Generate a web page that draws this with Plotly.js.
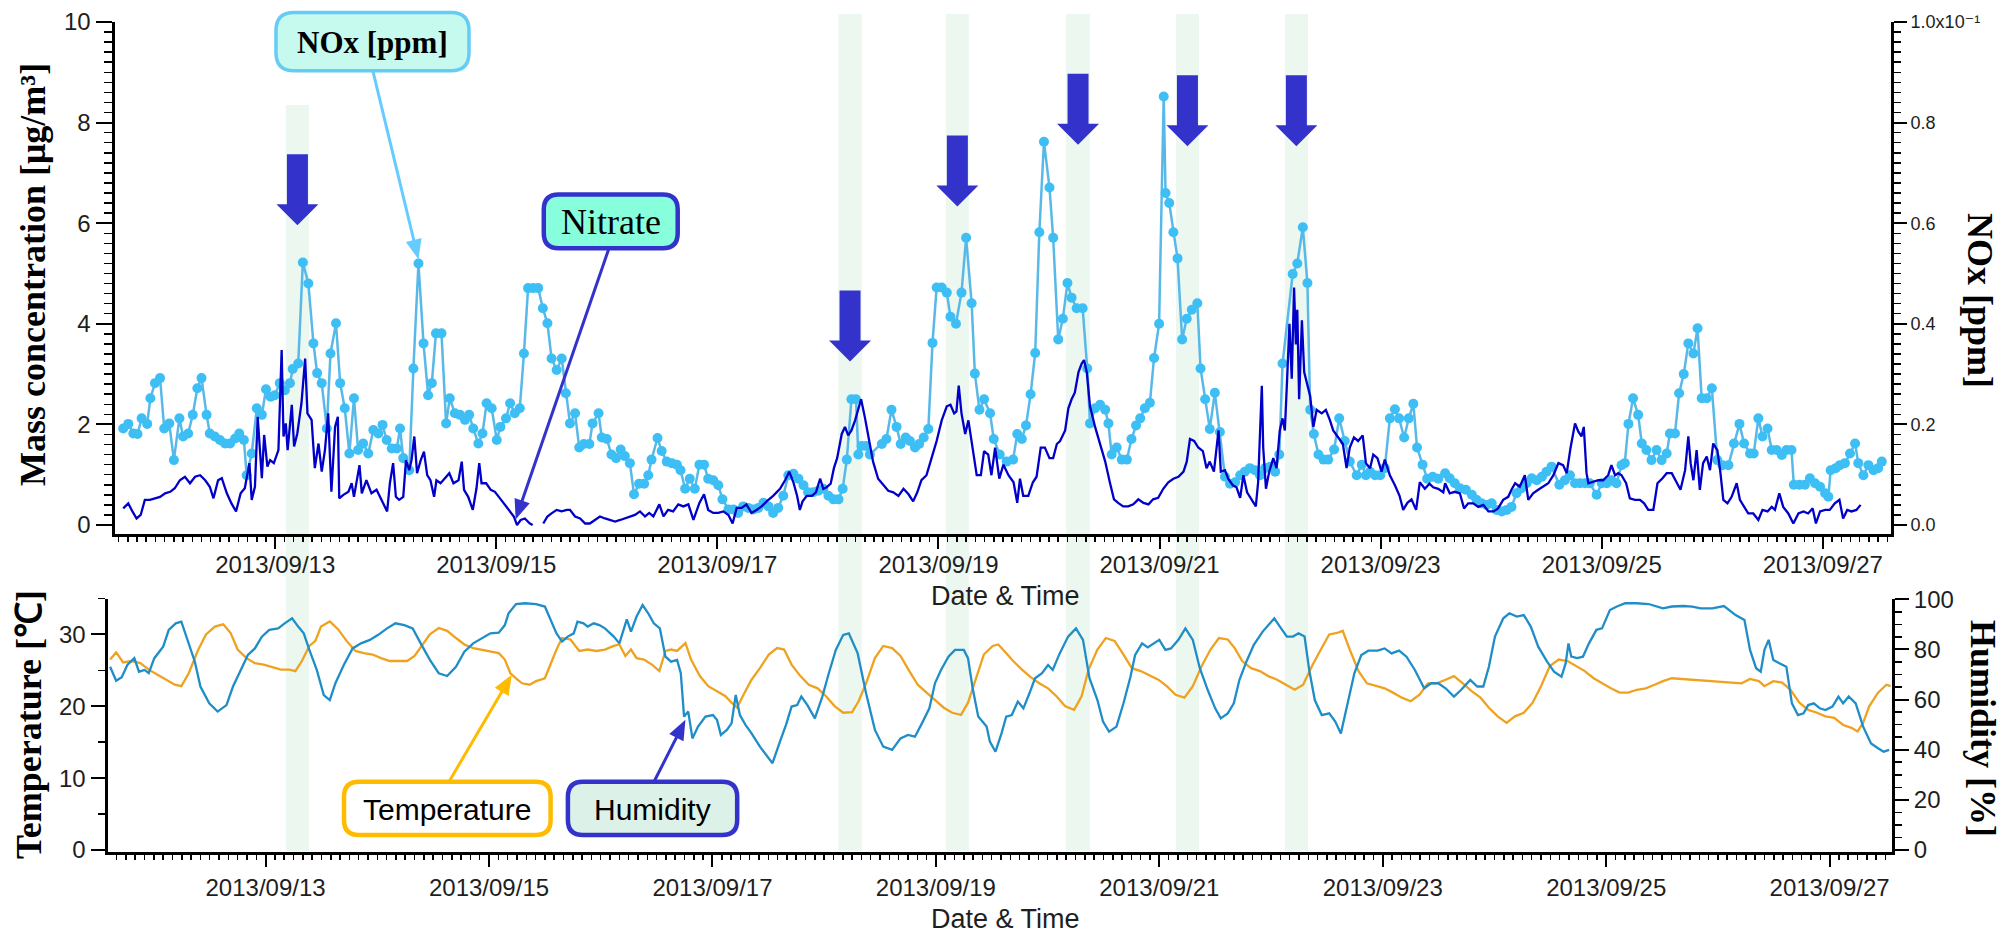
<!DOCTYPE html>
<html>
<head>
<meta charset="utf-8">
<script src="https://cdn.plot.ly/plotly-3.0.1.min.js"></script>
<style>
html,body{margin:0;padding:0;background:#ffffff;overflow:hidden;}
#chart{width:2007px;height:934px;}
</style>
</head>
<body>
<div id="chart"></div>
<script>
// ================= DATA (time = hours since 2013-09-11 00:00) =================
const noxHours = [15,16.1,17.2,18.1,19,20.2,20.9,21.9,23,23.9,25,26,27.2,28,29.1,30.1,31.1,32,33.1,33.8,34.9,36,37.1,38.2,39.3,40.2,41.2,41.8,42.9,44,45.1,46,47,47.9,49,50.1,51.2,51.8,53,54,55.2,56.3,57.1,58.1,59.2,60,61.2,62.1,63.1,64.1,65.1,66,67.1,68.2,69.3,70.4,71.3,72.2,73.3,74.4,75.1,75.8,77.1,78,79.1,80.2,81.2,82,82.9,84.1,85.1,85.9,87,88.1,89.2,90.1,91,92.1,93,93.9,95,96.1,96.9,98.1,99,100,101.1,102,102.9,104,105.1,106.1,107.1,108,109.1,110.2,111.1,
  112,113.1,114,115,116.2,116.9,118.2,118.9,120,121,122,123,123.9,125,125.9,127,128.1,129,129.7,131,131.9,133,134.1,135.2,136,137,138,139.1,140.1,141.1,142,143.1,144.2,145.1,146.4,147.5,148.5,149.6,150.7,151.8,152.9,154,155.1,156.1,157.2,158.3,159.4,160.5,161.6,162.7,163.7,164.8,165.9,167,168.1,169.2,170.3,171.2,172.1,173.1,174.1,174.6,175.3,176.3,177.1,179.7,180.7,181.8,182.9,183.8,184.9,185.8,186.9,187.8,188.8,189.8,190.7,191.6,192.7,193.8,194.6,195.8,197,198,199.2,199.9,200.9,201.9,203.2,204,205.3,206.8,
  208.2,209.1,210.1,211,212,213,213.9,214.9,216.1,216.9,218,219,220,220.9,222,223.3,224.3,224.9,226,227.1,228.2,228.9,229.6,230.7,231.8,232.9,233.9,234.9,235.8,236.8,237.9,238.8,239.9,240.9,241.3,242.1,243,243.9,244.9,245.9,247,248.2,248.9,249.9,250.9,252,253.1,254.2,255.3,256.4,257.5,258.5,259.6,260.7,261.8,262.9,264,265.1,266,266.7,268.9,269.9,271.1,272.1,272.7,273.5,274.5,275.6,276.6,277.9,279,280.2,281.3,282.8,283.9,284.8,285.7,286.8,287.9,288.9,290,291.1,292,293.1,294.1,295.1,295.9,297.1,298.1,299.3,300.5,
  302,303,304.1,305.2,306.5,307.8,308.8,309.9,311,312.1,313.2,314.3,315.4,316.4,317.5,318.6,319.7,320.8,321.9,323,324,325.1,326.8,328,329.1,330.2,331.3,332.4,333.4,334.9,336,337.1,338.1,339.2,340.3,341,341.8,342.8,343.9,344.7,345.7,346.8,347.9,349,350.1,350.8,351.9,352.8,353.8,354.8,355.9,356.8,357.7,358.8,359.9,361.1,362.2,363.5,364.7,365.9,366.9,368.2,369,370,370.9,372,372.9,374,375.1,376.1,377.2,377.7,378.9,380.1,381.2,382.3,383.4,384.5,385.2,385.7,386.8,387.7,388.8,389.9,391,391.7,392.8,393.9,395,396,396.8];
const noxPpm = [.0192,.0201,.0182,.0181,.0212,.0201,.0252,.0282,.0292,.0192,.0202,.0129,.0212,.0176,.0182,.0219,.0272,.0292,.0219,.0182,.0176,.0169,.0162,.0162,.0172,.0182,.0169,.0099,.0142,.0232,.0219,.0270,.0255,.0258,.0282,.0268,.0282,.0310,.0321,.0522,.0480,.0361,.0302,.0282,.0192,.0341,.0401,.0282,.0232,.0142,.0252,.0149,.0162,.0142,.0189,.0182,.0199,.0169,.0152,.0152,.0192,.0133,.0109,.0311,.0520,.0361,.0258,.0282,.0381,.0381,.0202,.0252,.0222,.0219,.0209,.0219,.0192,.0162,.0182,.0242,.0232,.0169,.0195,.0212,.0242,.0222,.0232,.0341,.0471,.0471,.0471,.0431,.0401,.0331,.0308,.0331,.0262,
  .0202,.0222,.0154,.0161,.0161,.0202,.0222,.0174,.0171,.0140,.0133,.0150,.0137,.0123,.0061,.0082,.0082,.0099,.0130,.0173,.0147,.0126,.0123,.0120,.0109,.0072,.0092,.0072,.0120,.0120,.0092,.0089,.0079,.0051,.0031,.0031,.0024,.0037,.0034,.0031,.0034,.0044,.0037,.0024,.0034,.0058,.0099,.0102,.0092,.0079,.0065,.0065,.0068,.0072,.0058,.0051,.0051,.0072,.0130,.0250,.0250,.0140,.0157,.0157,.0140,.0161,.0171,.0229,.0195,.0161,.0174,.0167,.0154,.0161,.0174,.0191,.0362,.0472,.0472,.0462,.0414,.0400,.0462,.0571,.0441,.0301,.0229,.0250,.0222,.0171,.0140,.0126,
  .0130,.0181,.0171,.0198,.0260,.0342,.0582,.0762,.0671,.0571,.0369,.0410,.0481,.0452,.0431,.0431,.0311,.0202,.0232,.0239,.0229,.0202,.0140,.0154,.0130,.0130,.0171,.0198,.0212,.0232,.0243,.0332,.0400,.0852,.0660,.0640,.0582,.0530,.0369,.0410,.0428,.0441,.0311,.0250,.0191,.0263,.0185,.0096,.0082,.0085,.0099,.0106,.0113,.0109,.0099,.0113,.0116,.0106,.0140,.0321,.0499,.0520,.0592,.0481,.0229,.0181,.0140,.0130,.0130,.0150,.0212,.0167,.0126,.0099,.0120,.0099,.0106,.0099,.0099,.0113,.0212,.0230,.0212,.0174,.0212,.0241,.0154,.0120,.0092,.0096,.0092,
  .0103,.0093,.0083,.0073,.0070,.0060,.0050,.0043,.0040,.0043,.0030,.0027,.0030,.0036,.0063,.0073,.0083,.0093,.0089,.0096,.0106,.0116,.0080,.0089,.0099,.0083,.0083,.0083,.0083,.0060,.0083,.0083,.0089,.0083,.0119,.0123,.0201,.0252,.0219,.0162,.0149,.0129,.0149,.0129,.0142,.0182,.0182,.0262,.0300,.0361,.0341,.0391,.0252,.0252,.0272,.0129,.0119,.0119,.0162,.0201,.0162,.0142,.0142,.0212,.0176,.0192,.0149,.0149,.0139,.0149,.0149,.0080,.0080,.0080,.0093,.0083,.0076,.0063,.0056,.0109,.0113,.0119,.0123,.0142,.0162,.0123,.0099,.0119,.0109,.0113,.0126];

const nitrateHours = [15,16.1,17,17.9,18.8,19.7,20.8,21.9,23,24.1,25.2,26.2,27.3,28.4,29.5,30.6,31.7,32.8,33.8,34.6,35.6,36.4,37.5,38.5,39.5,40.5,41.4,42.4,42.9,43.6,44.2,45.1,45.6,46.3,46.9,47.7,48.7,49.4,49.8,50.3,50.7,51.6,52.1,52.8,53.7,54.5,55,55.9,56.6,57.4,58.1,58.8,59.5,60.2,61,61.6,61.9,62.8,63.9,64.6,65.1,66.3,66.8,67.8,68.9,70,71.1,72.3,72.9,73.6,74.2,74.9,75.8,76.4,77.1,77.6,78.2,78.8,79.6,80.3,81,81.7,82.5,83,83.9,84.9,85.8,86.7,87.8,88.5,89,89.9,90.9,91.7,92.3,92.8,93.8,94.8,95.7,96.8,97.9,98.9,99.8,100.5,101.3,102.2,103.3,103.9,105,106.2,107.1,108,109.1,110.2,111.3,
  112,113.1,114.2,115.3,116.3,117.4,118.5,119.6,120.7,121.8,122.9,123.9,125,126.1,127.2,128.3,129.2,130.1,131.4,132.3,133.3,134.4,135.5,136.6,137.7,138.8,140.1,141.1,142,143.1,144.2,145.3,146.4,147.3,148.2,149.3,150.3,151.4,152.5,153.6,154.7,156.1,157.6,158.7,159.6,160.5,161.3,161.9,162.5,163.4,164.5,165.4,166.3,167,167.7,168.6,169.3,170,171,171.7,172.4,173.1,173.9,174.6,175.2,176,177,177.8,178.9,180,181.1,182.2,183.3,184.4,185.5,186.5,187.4,188.3,189.4,190.5,191.6,192.7,193.8,194.6,195.4,195.9,196.4,197,197.8,198.5,199.4,200.3,201.2,201.9,202.8,203.5,204.3,205.2,206.1,207.2,
  208.3,209.1,209.7,210.4,211.5,212.5,213.3,214.2,215.1,216.1,216.9,217.7,218.4,219.5,220.2,220.9,221.6,222.4,223.1,223.6,224.2,224.9,226,227.1,228.2,229.2,230.1,231,232.1,233.2,234.3,235.4,236.5,237.6,238.6,239.7,240.8,241.9,243,244.1,245.2,245.9,246.6,247.5,248.4,249.4,250.2,250.9,251.8,252.8,253.3,254.2,254.9,255.9,256.7,257.5,258.2,259,260,260.9,261.4,262.2,262.5,263.1,263.8,264.7,265.4,266.1,266.7,267.2,267.7,268.2,268.7,269.2,269.6,269.9,270.3,270.9,271.4,271.9,272.7,273.4,274.1,275.2,276.1,277,277.7,278.8,279.8,280.6,281.3,282.2,283.1,284.1,284.8,285.7,286.4,287.3,288.2,288.9,290,291.1,292.1,292.9,293.8,294.7,295.7,296.5,297.6,298.6,299.4,300.5,301.6,
  302,303,304.1,305.2,306.1,307,308.1,309.2,310.3,311.4,312.5,313.5,314.6,315.7,316.4,317.2,318.2,319.3,320.05,321.1,322.2,323.3,324.4,325.5,326.6,327.6,328.4,329.2,330.2,330.9,331.6,332.1,332.7,333.1,334.2,335.25,336.3,337.4,338.1,338.9,339.6,340.3,341.3,342.1,343.2,344.3,345.2,346.1,347.2,348.1,349.2,350.1,351.2,352.3,353.1,354.1,354.8,355.3,355.9,356.6,357.3,358,358.8,359.5,360.2,361.1,361.7,362.4,363.3,364.2,365.3,366,366.9,367.8,368.9,370,370.9,372,372.9,373.6,374.55,375.4,376.5,377.6,378.7,379.8,380.8,381.8,382.5,383.4,384.5,385.5,386.6,387.6,388.4,389.3,390.2,391.3,392.2];
const nitrateValues = [.33,.43,.27,.13,.20,.50,.50,.53,.56,.63,.66,.73,.89,.96,.83,.96,.99,.89,.76,.53,.89,.93,.63,.43,.27,.63,.73,1.23,.50,.76,2.15,.93,1.79,1.16,1.29,1.23,1.49,3.48,1.76,2.02,1.49,2.39,1.56,1.82,2.42,3.31,2.22,2.09,1.13,1.62,1.06,1.49,2.22,.66,1.95,2.15,.53,.60,.66,.83,.56,1.19,.63,.89,.63,.70,.50,.27,.83,1.23,.56,.50,.56,1.29,1.09,1.29,1.76,1.03,1.29,1.46,.99,.89,.56,.89,.83,.93,1.03,.83,.89,1.26,.70,.56,.30,.73,1.23,.83,.83,.70,.66,.53,.40,.27,.17,0,.10,.13,.03,0,null,.03,.17,.23,.30,.27,.30,
  .30,.17,.13,.03,.03,.10,.17,.13,.10,.07,.10,.13,.17,.20,.27,.17,.24,.17,.41,.17,.30,.27,.41,.37,.41,.10,.44,.61,.30,.24,.24,.27,.20,.03,.34,.34,.41,.24,.30,.37,.47,.58,.72,.89,1.06,.85,.58,.30,.47,.58,.58,.65,.92,.72,.75,.82,1.13,1.33,1.81,1.95,1.78,1.88,2.08,2.29,2.50,2.15,1.67,1.26,.92,.79,.68,.65,.58,.72,.61,.47,.65,.89,.99,1.33,1.67,2.08,2.36,2.39,2.22,2.26,2.77,2.22,1.81,2.08,1.54,.99,.99,1.47,1.40,.99,1.54,.92,1.20,.99,
  .85,.44,.92,.58,.58,.85,.96,1.54,1.54,1.33,1.33,1.61,1.67,1.88,2.32,2.50,2.63,3.04,3.21,3.28,3.04,2.36,1.95,1.61,1.26,.85,.51,.44,.37,.37,.41,.51,.44,.41,.51,.54,.72,.85,.92,.96,1.06,1.26,1.71,1.67,1.54,1.47,1.13,1.26,1.06,1.88,1.06,1.09,.92,.79,.75,.54,.99,.65,.51,.37,.85,2.77,1.54,.72,1.06,1.33,1.13,1.88,2.12,1.88,2.91,4.00,2.91,4.72,3.59,4.28,2.50,4.07,3.04,2.84,2.56,1.95,2.29,2.22,2.29,2.08,1.88,1.74,1.61,1.13,1.54,1.74,1.67,1.78,1.23,1.13,1.40,1.33,1.06,1.30,.99,.79,.58,.30,.44,.51,.30,.85,.72,.82,.75,.72,.65,
  .83,.63,.66,.63,.33,.43,.43,.36,.40,.27,.27,.33,.50,.56,.70,.83,.76,.99,.50,.63,.70,.76,.83,.99,1.23,1.19,1.03,1.52,2.02,1.86,1.76,1.95,1.03,.83,.86,.89,.89,.99,1.19,.99,1.03,.99,.83,.53,.50,.50,.43,.30,.30,.83,.93,1.03,1.03,.83,.70,1.09,1.76,1.23,.89,1.49,.70,1.23,1.36,1.09,1.62,1.49,1.09,.50,.43,.56,.83,.50,.36,.23,.23,.10,.30,.27,.36,.30,.63,.36,.23,.03,.23,.27,.23,.33,.03,.27,.30,.30,.43,.50,.13,.30,.27,.30,.40];

const tempHours = [14.6,15.9,17.4,19.2,21.1,22.9,24.8,26.6,28.5,29.9,31.5,33.4,35.2,37.1,38.9,40.5,42,43.9,45.7,47.6,49.4,51.3,53.1,54.4,55.8,57.4,58.7,59.9,61.8,63.6,65.4,67.3,69.1,71,72.8,74.7,76.5,78.4,80,81.5,83.3,85.2,87,88.9,90.7,92.6,94.4,96.3,98.1,99.4,100.6,101.8,103.1,104.7,106.1,108,109.2,110.5,111.7,113.5,115.4,117.2,119.1,120.9,122.8,124,125.3,126.5,127.7,129.3,131,132.6,133.9,135.1,136.4,137.6,138.2,139.4,141.3,143.1,145,146.8,148.1,149.3,150.5,152.4,154.2,156.1,157.9,159.4,161,162.9,164.7,166.6,168.4,170.3,172.1,174,175.4,177,178.9,180.7,182.6,184.4,186.3,188.1,190,191.8,193.7,195.5,197.4,198.9,200.5,202.3,204.2,205.4,
  206.7,208.6,210.5,212.3,214.2,216.1,217.9,219.8,221.7,223.3,224.8,226.7,228.5,230.4,232.3,234.1,236,237.9,239.8,241.6,243.5,245.4,247.2,249.1,251,252.8,254.7,256.2,257.8,259.7,261.6,263.4,265.3,267.2,269.1,270.9,272.8,274.7,276.5,278.2,279.4,280.9,282.8,284.6,286.5,288.4,290.2,292.1,294,295.9,297.7,299.6,301.5,303.3,305.2,307.1,309,310.8,312.7,314.6,316.4,318.3,320.2,322,323.9,325.8,327.7,329.5,331.4,333.3,335.1,337,338.9,340.7,342.6,344.5,346.4,348.2,350.1,352,353.8,355.7,357.6,359.4,361.3,363.2,365.1,366.9,368.8,370,371.9,373.8,375.6,377.5,379.4,381.3,383.1,385,386.9,388.7,390,391.2,392.5,394.4,396.2,397.1];
const tempValues = [26.5,27.5,26.1,26.3,26.0,25.1,24.4,23.7,23.0,22.8,24.6,27.7,30.0,31.1,31.4,30.2,27.9,26.7,26.0,25.8,25.5,25.1,25.1,24.9,26.3,28.4,29.1,31.1,31.8,30.7,29.1,27.7,27.4,27.2,26.7,26.3,26.3,26.3,27.0,28.4,30.0,30.9,30.5,29.5,28.6,28.1,27.9,27.7,27.4,26.5,24.6,23.9,23.2,23.0,23.5,23.9,25.8,27.9,29.5,29.3,27.7,27.9,27.7,27.9,28.4,28.6,27.0,27.9,26.7,26.5,25.8,24.9,27.7,27.9,27.7,28.4,28.8,26.5,24.2,22.8,22.1,21.4,20.5,19.8,21.4,23.7,25.3,27.2,28.1,27.9,25.8,24.2,23.0,22.5,21.4,20.0,19.1,19.2,20.7,23.2,26.7,28.4,28.1,27.0,24.9,23.0,21.9,20.9,19.8,19.1,18.8,20.5,23.7,27.2,28.4,28.6,
  27.7,26.3,25.1,24.1,23.2,22.5,21.4,20.0,19.5,21.4,25.1,27.9,29.5,29.1,27.2,25.3,24.9,24.3,23.7,22.8,21.6,21.2,22.8,25.6,27.9,29.5,29.3,28.1,26.3,25.3,24.9,24.2,23.7,23.0,22.3,23.0,25.6,27.9,30.0,30.2,30.5,27.9,24.9,23.2,22.8,22.5,21.9,21.2,20.7,21.6,23.2,23.2,23.7,24.2,23.2,22.1,21.2,19.8,18.6,17.7,18.6,19.1,20.5,22.8,25.6,26.5,26.3,25.6,24.9,23.9,23.2,22.5,21.9,21.9,22.3,22.5,23.0,23.5,23.9,23.8,23.8,23.7,23.6,23.5,23.3,23.2,23.2,23.8,23.5,22.8,23.5,23.3,22.3,20.5,19.5,19.1,18.6,18.4,17.4,17.0,16.5,17.7,20.0,21.9,23.0,22.8];

const humHours = [14.6,15.9,17.1,18.3,19.8,20.8,22,22.9,24.1,26,27.2,28.7,29.9,31.5,32.8,34,35.9,37.7,39.6,41,42.6,44.2,45.7,47.2,48.8,50.7,52.1,53.7,55,56.2,57.4,59,60.5,61.8,63,64.8,66.7,68.5,70.4,72.2,74.1,75.9,77.8,79.6,81.5,83.3,85.2,87,88.9,90.7,92.6,94.4,96.3,98.1,99.4,100.2,101.8,103.7,106.1,108,109.2,110.5,111.7,112.9,114.2,115,116.3,117.2,118.5,119.7,120.9,122.8,124,124.9,125.6,126.5,127.7,129,130.2,131.4,132.7,133.9,135.1,136.4,137.2,137.9,138.8,139.7,140.9,142.5,144.1,145,145.8,147.1,148.1,149,149.9,151.1,152.4,154.2,155.5,156.9,158.5,159.8,161,162.2,163.1,164.4,166,167.6,169,170.5,172.1,173.3,175.2,177,178.9,180.7,182.6,184.4,186,187.5,189,190.6,191.8,193.1,194.7,196.1,198,198.9,199.9,201.1,202.9,
  203.6,204.8,206.1,207.1,208.3,209.6,210.8,212.1,213.3,214.8,216.1,217.1,218.6,220.4,222.1,223.6,225,226.7,227.9,229.2,230.8,232.3,233.8,234.8,236.3,237.5,238.8,240,241.3,242.5,244.1,245.6,247.2,248.7,250.4,252,253.2,254.7,256,257.2,258.7,260.3,262.2,263.4,264.7,265.9,267.4,268.7,269.9,271.2,272.2,273.4,274.9,276.5,277.8,279,280.3,281.9,283.4,284.9,286.9,288.4,289.9,291.5,293.1,294.9,296.9,298.4,299.9,301.5,303.3,304.8,306.8,308.3,309.6,310.8,312.1,313.9,315.2,316.8,318.3,319.8,321.4,323.3,324.8,326.4,327.3,327.9,328.5,329.8,331,332.3,333.9,335.1,336.8,338.3,340.1,342.6,345.1,348.2,350.1,352.6,354.5,356.3,358.8,361.3,363.8,365.7,366.9,368.2,369.2,370,370.9,371.9,373.2,374.7,375.9,377.2,378.4,379.4,380.6,381.9,383.1,384.6,385.9,386.9,388.1,389.6,391.2,392.9,394.4,395.6,396.8];
const humValues = [73.1,67.5,68.9,73.8,76.5,71.1,71.8,70.5,76.5,81.1,87.8,90.4,91.1,82.4,75.1,65.2,58.5,55.2,57.8,65.2,71.8,77.8,80.4,85.1,87.8,88.4,90.4,92.4,89.1,86.4,79.8,71.8,61.8,59.8,66.5,73.8,80.4,82.4,83.8,85.8,88.4,90.4,89.7,88.4,81.8,75.8,70.5,69.4,73.1,79.1,82.4,84.4,86.4,86.7,89.7,94.4,98.1,98.4,98.1,97.1,91.7,86.4,83.1,85.1,86.4,91.1,90.4,89.1,90.4,89.7,88.4,85.1,82.4,87.8,92.0,87.1,93.1,97.7,94.4,90.4,88.4,77.1,75.1,75.8,70.5,53.2,55.2,44.5,49.2,53.2,53.8,51.8,45.9,47.9,50.5,61.8,53.8,49.9,46.5,41.2,37.9,34.6,43.2,49.9,57.2,57.8,61.2,57.8,52.5,61.2,70.5,79.8,85.8,86.4,78.4,62.5,47.9,41.2,39.9,44.5,45.9,45.2,50.5,56.5,66.5,71.8,77.1,79.8,79.8,76.5,64.5,53.2,49.2,
  43.2,39.2,46.5,53.2,53.8,59.2,56.5,62.5,68.5,70.5,73.8,71.8,78.4,85.1,88.4,83.8,68.5,59.8,51.2,47.2,49.2,58.5,69.1,77.8,82.4,80.8,82.4,83.8,79.8,80.4,83.8,88.4,83.8,72.5,63.8,56.5,52.5,54.5,58.5,67.8,75.1,81.8,87.1,89.7,92.4,89.1,85.1,85.1,86.4,85.1,71.8,59.8,53.8,54.5,51.2,46.5,57.8,70.5,77.8,79.5,79.5,80.4,78.4,79.5,77.1,71.8,64.5,66.5,66.5,64.5,61.2,63.8,67.8,65.2,65.2,73.1,85.1,92.4,94.4,93.1,93.7,89.1,81.1,75.1,71.1,69.1,74.5,82.4,77.1,76.5,77.1,82.4,87.8,88.4,95.7,97.1,98.4,98.4,98.1,96.4,97.1,97.3,97.1,96.4,96.4,97.3,93.7,91.7,79.8,72.5,71.1,79.8,83.8,75.8,74.5,73.1,58.5,53.8,54.5,57.8,58.5,56.5,55.8,57.2,61.2,58.5,61.2,58.5,49.2,42.5,40.6,39.2,39.9];

// highlighted periods (hours since 2013-09-11 00:00) and the arrow tips above them (µg/m3 scale)
const bandStartHours = [50.3,170.25,193.6,219.7,243.55,267.2];
const bandEndHours   = [55.35,175.35,198.6,224.9,248.55,272.2];
const arrowTipValues = [5.96,3.25,6.33,7.56,7.53,7.53];

// axis ticks
const labelDates = ['2013-09-13','2013-09-15','2013-09-17','2013-09-19','2013-09-21','2013-09-23','2013-09-25','2013-09-27'];
const labelTexts = ['2013/09/13','2013/09/15','2013/09/17','2013/09/19','2013/09/21','2013/09/23','2013/09/25','2013/09/27'];
const plainDayDates = ['2013-09-12','2013-09-14','2013-09-16','2013-09-18','2013-09-20','2013-09-22','2013-09-24','2013-09-26'];
const massTicks = [0,2,4,6,8,10];
const noxTicks = [0,0.02,0.04,0.06,0.08,0.1];
const noxTickText = ['0.0','0.2','0.4','0.6','0.8','1.0x10⁻¹'];
const tempTicks = [0,10,20,30];
const humTicks = [0,20,40,60,80,100];

// ================= GEOMETRY =================
const W = 2007, H = 934;
const TOP = {left:114.5, right:1891, top:22, bottom:534};
const BOT = {left:107.5, right:1892, top:598.5, bottom:852};
const topHourRange = [13.11, 398.8];
const botHourRange = [14.04, 397.4];
const massRange = [-0.179, 10];
const noxRange = [-0.00179, 0.1];
const tempRange = [-0.278, 35];
const humRange = [-0.8, 100.3];

const T0 = Date.UTC(2013, 8, 11, 0, 0, 0);
function hToDate(h){
  const d = new Date(T0 + Math.round(h*3600)*1000);
  const p = n => String(n).padStart(2,'0');
  return d.getUTCFullYear()+'-'+p(d.getUTCMonth()+1)+'-'+p(d.getUTCDate())+' '+p(d.getUTCHours())+':'+p(d.getUTCMinutes())+':'+p(d.getUTCSeconds());
}
const lin = (v, r, p0, p1) => p0 + (v - r[0])/(r[1]-r[0])*(p1-p0);
const topX = h => lin(h, topHourRange, TOP.left, TOP.right);
const botX = h => lin(h, botHourRange, BOT.left, BOT.right);
const massY = v => lin(v, massRange, TOP.bottom, TOP.top);
const noxY = v => lin(v, noxRange, TOP.bottom, TOP.top);
const tempY = v => lin(v, tempRange, BOT.bottom, BOT.top);
const humY = v => lin(v, humRange, BOT.bottom, BOT.top);
const PX = x => x / W;
const PY = y => 1 - y / H;
const P = (x,y) => PX(x).toFixed(5)+','+PY(y).toFixed(5);

function polyPath(pts){ return 'M' + pts.map(q => P(q[0],q[1])).join(' L') + ' Z'; }
function roundRectPath(x0,y0,x1,y1,r){
  return `M${P(x0+r,y0)} L${P(x1-r,y0)} Q${P(x1,y0)} ${P(x1,y0+r)} L${P(x1,y1-r)} Q${P(x1,y1)} ${P(x1-r,y1)} L${P(x0+r,y1)} Q${P(x0,y1)} ${P(x0,y1-r)} L${P(x0,y0+r)} Q${P(x0,y0)} ${P(x0+r,y0)} Z`;
}

const SERIF = '"Liberation Serif", "Times New Roman", Times, serif';
const SANS = '"Liberation Sans", Arial, Helvetica, "DejaVu Sans", sans-serif';

// ================= TRACES =================
const traces = [
  {x: noxHours.map(hToDate), y: noxPpm, xaxis:'x', yaxis:'y', type:'scatter', mode:'lines+markers',
   line:{color:'#58b9e8', width:2.5}, marker:{color:'#3dbff5', size:10}, name:'NOx', hoverinfo:'skip'},
  {x: nitrateHours.map(hToDate), y: nitrateValues, xaxis:'x', yaxis:'y2', type:'scatter', mode:'lines',
   line:{color:'#0000c8', width:2.3}, name:'Nitrate', connectgaps:false, hoverinfo:'skip'},
  {x: tempHours.map(hToDate), y: tempValues, xaxis:'x2', yaxis:'y3', type:'scatter', mode:'lines',
   line:{color:'#efa21f', width:2.3}, name:'Temperature', hoverinfo:'skip'},
  {x: humHours.map(hToDate), y: humValues, xaxis:'x2', yaxis:'y4', type:'scatter', mode:'lines',
   line:{color:'#1e8dc8', width:2.3}, name:'Humidity', hoverinfo:'skip'}
];

// ================= AXES =================
const tickFont = {family: SANS, size: 24, color: '#1e1e1e'};
function xAxis(dom, hr, standoff){
  return {type:'date', domain:[PX(dom.left), PX(dom.right)], range:[hToDate(hr[0]), hToDate(hr[1])],
    tickmode:'array', tickvals: labelDates, ticktext: labelTexts, tickangle:0, ticklabelstandoff: standoff,
    showline:true, linecolor:'#000', linewidth:3, ticks:'outside', ticklen:12, tickwidth:2, tickcolor:'#000',
    tickfont: tickFont, showgrid:false, zeroline:false, fixedrange:true,
    minor:{ticks:'outside', ticklen:5, tickwidth:1.5, tickcolor:'#000', tickmode:'linear', tick0:'2013-09-11 00:00:00', dtick: 2*3600000, showgrid:false}};
}
// unlabelled long ticks on the even days
function dayTickAxis(dom, hr, over, anchor){
  return {type:'date', domain:[PX(dom.left), PX(dom.right)], range:[hToDate(hr[0]), hToDate(hr[1])],
    overlaying: over, anchor: anchor, side:'bottom', tickmode:'array', tickvals: plainDayDates,
    showticklabels:false, showline:false, ticks:'outside', ticklen:12, tickwidth:2, tickcolor:'#000',
    showgrid:false, zeroline:false, fixedrange:true};
}
function yAxis(dom, range, ticks, text, minorStep, side, size, len){
  const a = {domain:[PY(dom.bottom), PY(dom.top)], range: range, side: side,
    tickmode:'array', tickvals: ticks, showline:true, linecolor:'#000', linewidth:3,
    ticks:'outside', ticklen: len, tickwidth:2, tickcolor:'#000', tickfont:{family:SANS, size:size, color:'#1e1e1e'},
    showgrid:false, zeroline:false, fixedrange:true,
    minor:{ticks:'outside', ticklen: Math.round(len/2), tickwidth:1.5, tickcolor:'#000', tickmode:'linear', tick0:0, dtick:minorStep, showgrid:false}};
  if (text) a.ticktext = text;
  return a;
}

const layout = {
  width: W, height: H, margin:{l:0,r:0,t:0,b:0}, paper_bgcolor:'#ffffff', plot_bgcolor:'rgba(0,0,0,0)',
  showlegend:false, hovermode:false,
  xaxis: Object.assign(xAxis(TOP, topHourRange, -5), {anchor:'y'}),
  xaxis3: dayTickAxis(TOP, topHourRange, 'x', 'y'),
  yaxis: Object.assign(yAxis(TOP, noxRange, noxTicks, noxTickText, 0.002, 'right', 18, 13), {anchor:'x'}),
  yaxis2: Object.assign(yAxis(TOP, massRange, massTicks, null, 0.2, 'left', 24, 16), {anchor:'x', overlaying:'y'}),
  xaxis2: Object.assign(xAxis(BOT, botHourRange, 0), {anchor:'y3'}),
  xaxis4: dayTickAxis(BOT, botHourRange, 'x2', 'y3'),
  yaxis3: Object.assign(yAxis(BOT, tempRange, tempTicks, null, 5, 'left', 24, 14), {anchor:'x2'}),
  yaxis4: Object.assign(yAxis(BOT, humRange, humTicks, null, 5, 'right', 24, 14), {anchor:'x2', overlaying:'y3'}),
  shapes: [], annotations: []
};

// ---- highlighted bands (span both panels) ----
const bandTopsPx = [105,14,14,14,14,14];
bandStartHours.forEach((s,i) => {
  layout.shapes.push({type:'rect', xref:'paper', yref:'paper', layer:'below',
    x0: PX(topX(s)), x1: PX(topX(bandEndHours[i])), y0: PY(851), y1: PY(bandTopsPx[i]),
    fillcolor:'#ebf7ef', line:{width:0}});
});

// ---- block arrows above the bands ----
bandStartHours.forEach((s,i) => {
  const cx = topX((s + bandEndHours[i]) / 2);
  const tip = massY(arrowTipValues[i]);
  const headY = tip - 21, topY = tip - 71;
  layout.shapes.push({type:'path', xref:'paper', yref:'paper', layer:'above',
    path: polyPath([[cx-10.5,topY],[cx+10.5,topY],[cx+10.5,headY],[cx+21,headY],[cx,tip],[cx-21,headY],[cx-10.5,headY]]),
    fillcolor:'#3333cc', line:{width:0}});
});

// ---- call-out boxes ----
const callouts = [
  {text:'<b>NOx [ppm]</b>', box:[276,12.5,469,70.7], r:18, fill:'#c6faef', border:'#66ccf5', bw:3.5,
   font:{family:SERIF, size:31, color:'#000'}, tail:[372.8,70.7], tip:[topX(79.1), noxY(0.0520)-4], color:'#66ccff'},
  {text:'Nitrate', box:[543.8,194.6,677.7,248.2], r:15, fill:'#88ffdc', border:'#3333cc', bw:4.5,
   font:{family:SERIF, size:36, color:'#000'}, tail:[609,248.2], tip:[topX(100.2), massY(0.11)], color:'#3333cc'},
  {text:'Temperature', box:[344,781.7,550.6,835], r:15, fill:'#ffffff', border:'#ffbb00', bw:4.5,
   font:{family:SANS, size:30, color:'#000'}, tail:[449,781.7], tip:[botX(100.9), tempY(24.4)], color:'#ffbb00'},
  {text:'Humidity', box:[567.9,781.7,737.2,835], r:15, fill:'#dcf2e8', border:'#3333cc', bw:4.5,
   font:{family:SANS, size:30, color:'#000'}, tail:[654,781.7], tip:[botX(138.2), humY(51.9)], color:'#3333cc'}
];
callouts.forEach(c => {
  const [x0,y0,x1,y1] = c.box;
  const dx = c.tip[0]-c.tail[0], dy = c.tip[1]-c.tail[1], L = Math.hypot(dx,dy);
  const ux = dx/L, uy = dy/L, nx = -uy, ny = ux, hl = 20, hw = 8;
  const bx = c.tip[0]-ux*hl, by = c.tip[1]-uy*hl;
  layout.shapes.push({type:'line', xref:'paper', yref:'paper', layer:'above',
    x0: PX(c.tail[0]), y0: PY(c.tail[1]), x1: PX(bx+ux*2), y1: PY(by+uy*2), line:{color:c.color, width:3}});
  layout.shapes.push({type:'path', xref:'paper', yref:'paper', layer:'above',
    path: polyPath([[c.tip[0],c.tip[1]],[bx+nx*hw,by+ny*hw],[bx-nx*hw,by-ny*hw]]), fillcolor:c.color, line:{width:0}});
  layout.shapes.push({type:'path', xref:'paper', yref:'paper', layer:'above',
    path: roundRectPath(x0,y0,x1,y1,c.r), fillcolor:c.fill, line:{color:c.border, width:c.bw}});
  layout.annotations.push({xref:'paper', yref:'paper', x:PX((x0+x1)/2), y:PY((y0+y1)/2 + 1),
    xanchor:'center', yanchor:'middle', text:c.text, showarrow:false, font:c.font});
});

// ---- axis titles ----
const titleFont = {family: SERIF, size: 36, color:'#000'};
const titles = [
  {text:'<b>Mass concentration [μg/m³]</b>', x:33, y:275, a:-90, font:titleFont},
  {text:'<b>NOx [ppm]</b>', x:1980, y:300, a:90, font:titleFont},
  {text:'<b>Temperature [℃]</b>', x:29, y:725, a:-90, font:titleFont},
  {text:'<b>Humidity [%]</b>', x:1983, y:728, a:90, font:titleFont},
  {text:'Date & Time', x:1005, y:596, a:0, font:{family:SANS, size:27, color:'#1e1e1e'}},
  {text:'Date & Time', x:1005, y:919, a:0, font:{family:SANS, size:27, color:'#1e1e1e'}}
];
titles.forEach(t => layout.annotations.push({xref:'paper', yref:'paper', x:PX(t.x), y:PY(t.y),
  xanchor:'center', yanchor:'middle', text:t.text, textangle:t.a, showarrow:false, font:t.font}));

Plotly.newPlot('chart', traces, layout, {displayModeBar:false, staticPlot:true});
</script>
</body>
</html>
